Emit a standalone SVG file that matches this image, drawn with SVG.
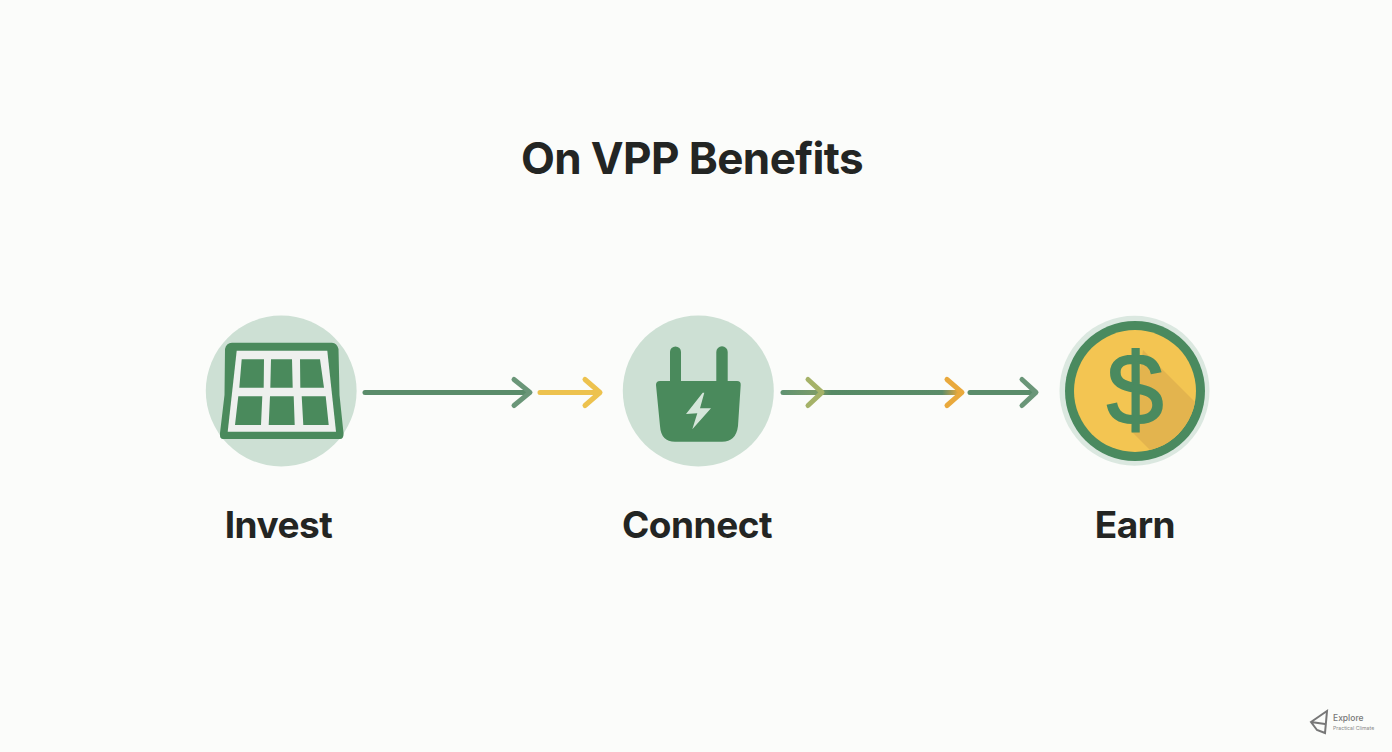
<svg xmlns="http://www.w3.org/2000/svg" width="1392" height="752" viewBox="0 0 1392 752">
<style>
text{font-family:"Inter","Liberation Sans",sans-serif;font-weight:700;fill:#232523;text-anchor:middle}
.title{font-size:44px;letter-spacing:-0.6px}.label{font-size:37px;letter-spacing:-0.5px}
.halo{fill:#cde0d4}.dk{fill:#4a8a5c}
.ln{fill:none;stroke-width:5;stroke-linecap:round;stroke-linejoin:round}
</style>
<defs>
<clipPath id="coinClip"><circle cx="1135" cy="391" r="61"/></clipPath>
<linearGradient id="g3" gradientUnits="userSpaceOnUse" x1="782" y1="0" x2="964" y2="0">
<stop offset="0" stop-color="#5f9270"/><stop offset="0.2" stop-color="#7d9c68"/><stop offset="0.27" stop-color="#568a65"/><stop offset="0.88" stop-color="#5a8c68"/><stop offset="0.97" stop-color="#e9a93c"/>
</linearGradient>
</defs>
<rect width="1392" height="752" fill="#fbfcfa"/>
<text class="title" x="692" y="174">On VPP Benefits</text>
<g id="connectors">
<path class="ln" stroke="#5a8c6a" d="M365 392.4H529"/><path class="ln" stroke="#6a9678" d="M514 379.5L530 392.4L514 405.5"/>
<path class="ln" stroke="#edc24e" d="M540 392.5H599M585 379.5L600 392.5L585 405.5"/>
<path class="ln" stroke="url(#g3)" d="M783 392.4H960"/><path class="ln" stroke="#a5b268" d="M808 379.5L822 392.4L808 405.5"/><path class="ln" stroke="#e9a93c" stroke-width="6" d="M947 379.5L962 392.4L947 405.5"/>
<path class="ln" stroke="#5a8c6a" d="M970 392.4H1034"/><path class="ln" stroke="#6a9678" d="M1022 379.5L1036 392.4L1022 405.5"/>
</g>
<g id="invest">
<circle class="halo" cx="281.2" cy="391" r="75.4"/>
<path class="dk" d="M232 342.7H332Q337 343 338.5 349L339.5 395L343.5 433Q344 439 340 439H223Q219.5 439 220 433L224.5 395L225 349Q226 343 232 342.7Z"/>
<path fill="#eef0ee" d="M236.7 350.7H327.3L336 431.7H227.7Z"/>
<path class="dk" d="M241.7 359.3H264L263.7 387.7H239.3ZM271 359.3H292L292.7 387.7H270.3ZM300 359.3H320L324 387.7H300.3ZM238.3 396.3H262.3L261 425H235ZM270 396.3H293.7L294.7 425H268.7ZM301.7 396.3H325.7L328.7 425H303.3Z"/>
<text class="label" x="278.5" y="538">Invest</text>
</g>
<g id="connect">
<circle class="halo" cx="698.3" cy="391" r="75.5"/>
<path class="dk" d="M670 352a5.4 5.4 0 0 1 11 0V381H716.3V352a5.7 5.7 0 0 1 11.4 0V381H737Q741 381 740.7 385L738 426Q736 441.7 722 441.7H675Q661 441.7 660 426L656 385Q656 381 660 381H670Z"/>
<path fill="#d5e6da" d="M702.7 392.7L686 414L697.3 413.3L692.3 429.3L711 408.3L700 408.3L704.3 392.7Z"/>
<text class="label" x="697" y="538">Connect</text>
</g>
<g id="earn">
<circle cx="1134.5" cy="390.7" r="75" fill="#dbe8e0"/>
<circle cx="1135" cy="391" r="70" fill="#4a8a5f"/>
<circle cx="1135" cy="391" r="61" fill="#f3c552"/>
<path clip-path="url(#coinClip)" fill="#e3b44e" d="M1143 350L1215 422L1170 470L1131 431Z"/>
<text x="1135" y="424" style="font-family:'Liberation Sans',sans-serif;font-weight:400;font-size:102px;fill:#4a8a5f;stroke:#4a8a5f;stroke-width:2px">$</text>
<text class="label" x="1135" y="538">Earn</text>
</g>
<g id="watermark">
<path fill="none" stroke="#777" stroke-width="2" d="M1311 722L1327 711L1325 733L1317 730ZM1311 722L1325 724"/>
<text x="1333" y="721" style="font-size:8.5px;font-weight:500;fill:#777;text-anchor:start">Explore</text>
<text x="1333" y="730" style="font-size:5.2px;font-weight:400;fill:#888;text-anchor:start">Practical Climate</text>
</g>
</svg>
